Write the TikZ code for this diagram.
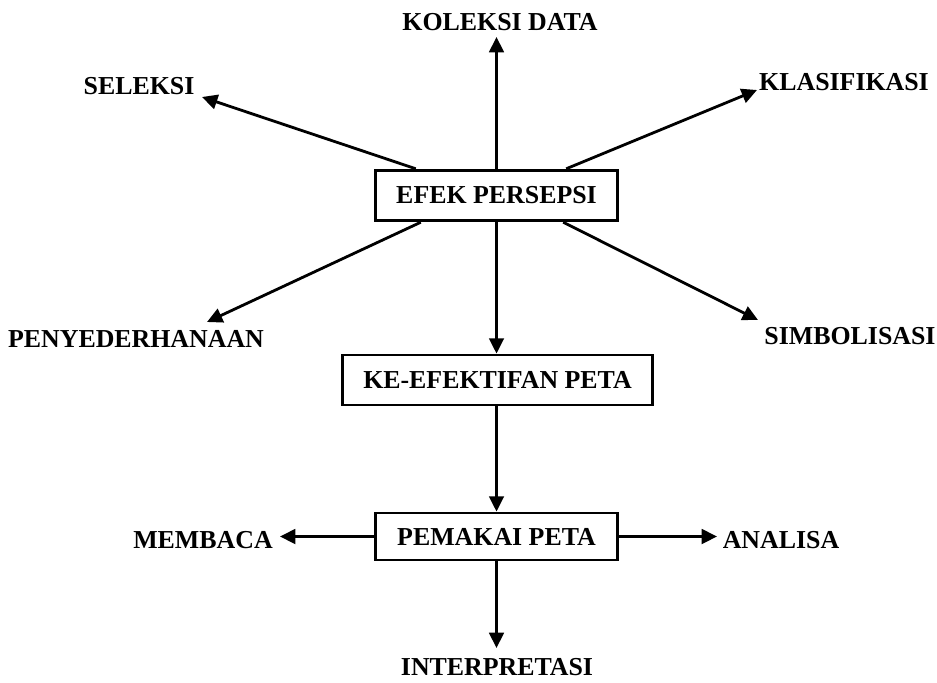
\documentclass[tikz,border=0pt]{standalone}
\usepackage{fontspec}
\setmainfont{Liberation Serif}
\usetikzlibrary{arrows.meta,calc}
\begin{document}
\begin{tikzpicture}[x=0.75pt,y=-0.75pt,
  line width=2.1pt,
  >={Triangle[length=11.5pt,width=11pt]},
  lbl/.style={font=\fontsize{19.4}{22}\selectfont\bfseries, inner sep=2pt},
  box/.style={draw, line width=2.1pt, font=\fontsize{19.4}{22}\selectfont\bfseries, inner sep=0pt},
  conn/.style={->}]
\useasboundingbox (0,0) rectangle (937,682);

% boxes
\node[box, minimum width=182pt, minimum height=38pt] (efek) at (496.5,195.5) {EFEK PERSEPSI};
\node[box, minimum width=233pt, minimum height=37.5pt] (ke) at (497.5,380) {KE-EFEKTIFAN PETA};
\node[box, minimum width=182pt, minimum height=35.25pt] (pem) at (496.5,536.5) {\raisebox{-2pt}{PEMAKAI PETA}};

% labels
\node[lbl] (koleksi) at (500,22) {KOLEKSI DATA};
\node[lbl] (seleksi) at (139,86) {SELEKSI};
\node[lbl] (klas) at (844,82) {KLASIFIKASI};
\node[lbl] (penye) at (136,339) {PENYEDERHANAAN};
\node[lbl] (simbol) at (850,336) {SIMBOLISASI};
\node[lbl] (membaca) at (203,540) {MEMBACA};
\node[lbl] (analisa) at (781,540) {ANALISA};
\node[lbl] (interp) at (497,667) {INTERPRETASI};

% arrow tips
\coordinate (tKol) at (497,37);
\coordinate (tSel) at (202,97);
\coordinate (tKla) at (757,90);
\coordinate (tPen) at (207,322);
\coordinate (tSim) at (758,320);
\coordinate (tMem) at (280,536.5);
\coordinate (tAna) at (717,536.5);
\coordinate (tInt) at (497,648);

% connectors from the upper box
\draw[conn] (efek.north) -- (efek.north |- tKol);
\draw[conn] ($(efek.north west)+(42,0)$) -- (tSel);
\draw[conn] ($(efek.north east)+(-53,0)$) -- (tKla);
\draw[conn] ($(efek.south west)+(47,0)$) -- (tPen);
\draw[conn] ($(efek.south east)+(-56,0)$) -- (tSim);
\draw[conn] (efek.south) -- (efek.south |- ke.north);

% chain downwards
\draw[conn] (ke.south -| efek.south) -- (efek.south |- pem.north);
\draw[conn] (pem.west) -- (tMem);
\draw[conn] (pem.east) -- (tAna);
\draw[conn] (pem.south) -- (pem.south |- tInt);
\end{tikzpicture}
\end{document}
